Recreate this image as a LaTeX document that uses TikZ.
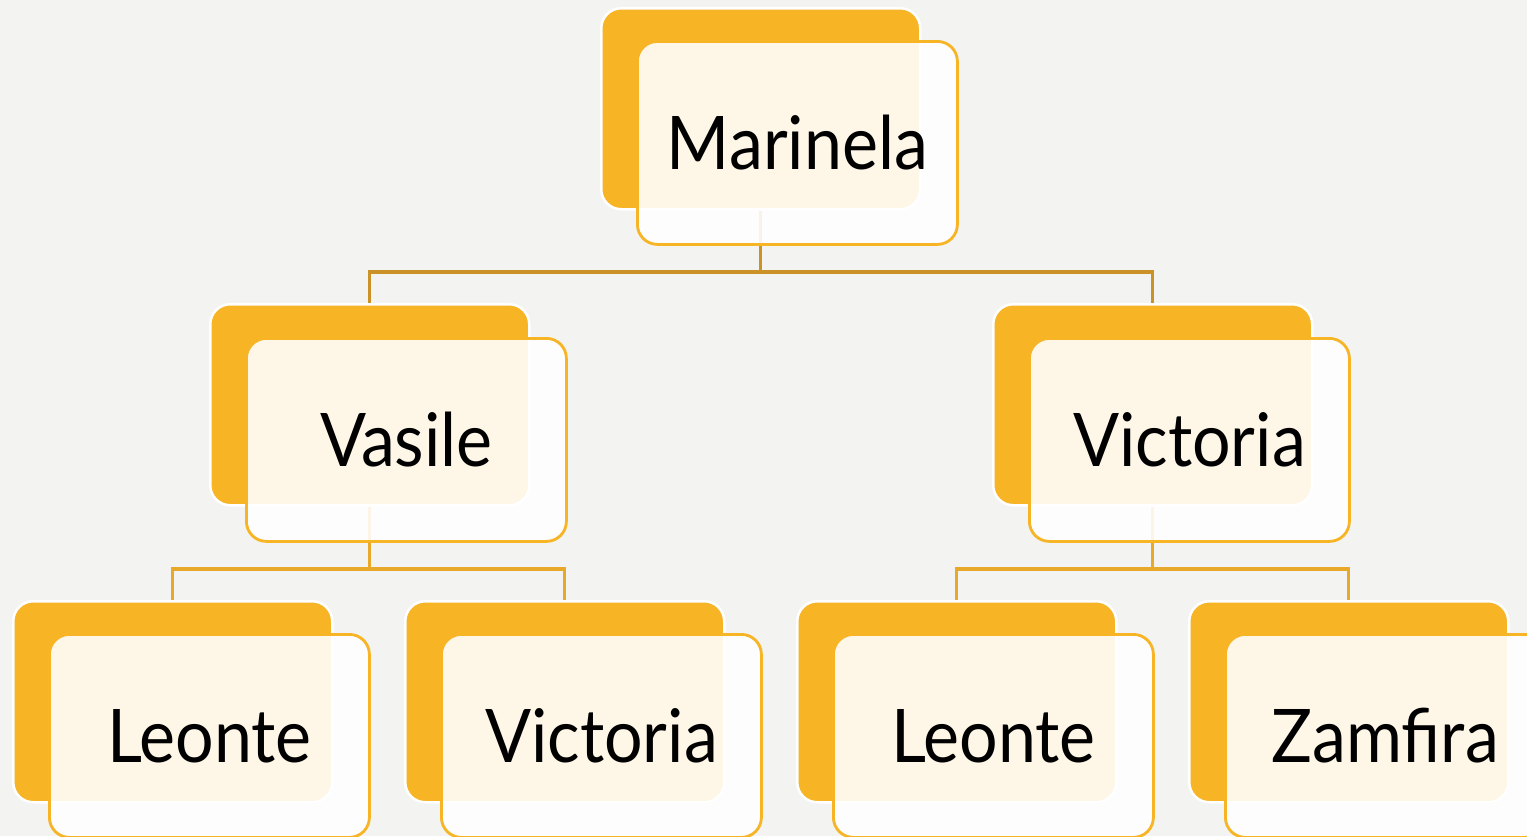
\documentclass[tikz,border=0pt]{standalone}
\usepackage{fontspec}
\setmainfont{Lato}[FakeStretch=0.92]
\definecolor{bgc}{HTML}{F3F3F1}
\definecolor{gold}{HTML}{F7B425}
\definecolor{lineA}{HTML}{CB9327}
\definecolor{lineB}{HTML}{E8A92A}
\pgfdeclarelayer{under}
\pgfsetlayers{under,main}
\tikzset{
  backbox/.style={draw=white, line width=2.5pt, fill=gold, rounded corners=20pt,
    minimum width=319pt, minimum height=201pt, inner sep=0pt, anchor=north west},
  frontbox/.style={draw=gold, line width=2.8pt, fill=white, fill opacity=0.89, text opacity=1,
    rounded corners=20pt, minimum width=320pt, minimum height=203pt, inner sep=0pt,
    anchor=north west, text height=53pt, text depth=0pt,
    font=\fontsize{74}{80}\selectfont},
  conn/.style={line width=3.2pt}
}
\begin{document}
\begin{tikzpicture}[x=1pt,y=-1pt]
\useasboundingbox (0,0) rectangle (1527,836);
\clip (0,0) rectangle (1527,836);
% back boxes
\node[backbox] (mB) at (600,7) {};
\node[backbox] (vB) at (209,303) {};
\node[backbox] (wB) at (992,303) {};
\node[backbox] (l1B) at (12,600) {};
\node[backbox] (w1B) at (404,600) {};
\node[backbox] (l2B) at (796,600) {};
\node[backbox] (zB) at (1188,600) {};
% front boxes
\node[frontbox] (mF) at (636,40) {Marinela};
\node[frontbox] (vF) at (245,337) {Vasile};
\node[frontbox] (wF) at (1028,337) {Victoria};
\node[frontbox] (l1F) at (48,633) {Leonte};
\node[frontbox] (w1F) at (440,633) {Victoria};
\node[frontbox] (l2F) at (832,633) {Leonte};
\node[frontbox] (zF) at (1224,633) {Zamfira};
% background and connectors
\begin{pgfonlayer}{under}
\fill[bgc] (0,0) rectangle (1527,836);
\coordinate (bus1) at (mB.south |- 0,272);
\coordinate (bus2) at (vB.south |- 0,569);
\coordinate (bus3) at (wB.south |- 0,569);
\draw[conn,lineA] (mB.south) -- (bus1) -| (vB.north);
\draw[conn,lineA] (bus1) -| (wB.north);
\draw[conn,lineB] (vB.south) -- (bus2) -| (l1B.north);
\draw[conn,lineB] (bus2) -| (w1B.north);
\draw[conn,lineB] (wB.south) -- (bus3) -| (l2B.north);
\draw[conn,lineB] (bus3) -| (zB.north);
\end{pgfonlayer}
\end{tikzpicture}
\end{document}
